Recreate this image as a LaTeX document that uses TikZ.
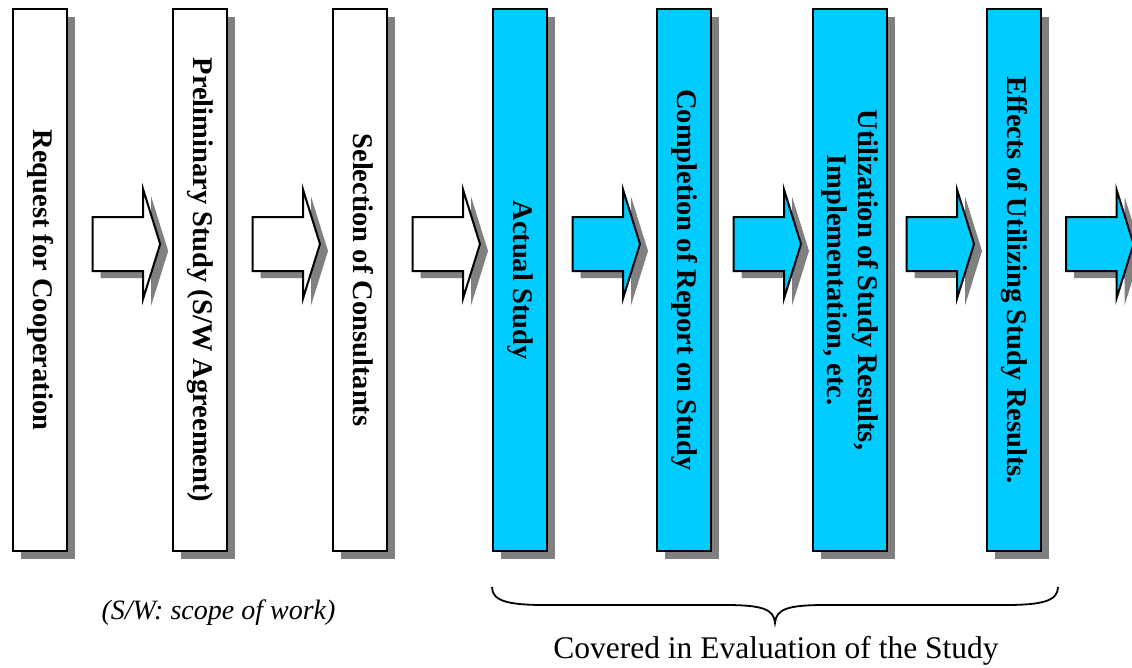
\documentclass[tikz,border=0pt]{standalone}
\usepackage{fontspec}
\setmainfont{Liberation Serif}
\usepackage{graphicx}
\usetikzlibrary{shadows}
\definecolor{boxcyan}{RGB}{0,204,255}
\definecolor{shadowgray}{RGB}{128,128,128}
\tikzset{
  stagebox/.style={draw=black, line width=2pt, minimum width=54pt, minimum height=542pt,
    inner sep=0pt, anchor=north west,
    drop shadow={shadow xshift=8pt, shadow yshift=-8pt, fill=shadowgray, opacity=1},
    font=\fontsize{28.5}{33}\selectfont\bfseries, align=center},
  whitebox/.style={stagebox, fill=white},
  cyanbox/.style={stagebox, fill=boxcyan},
  pics/blockarrow/.style={code={
    \fill[shadowgray, shift={(8,7)}] (0,-27) -- (50.5,-27) -- (50.5,-54.5) -- (67.5,0)
      -- (50.5,54.5) -- (50.5,27) -- (0,27) -- cycle;
    \draw[pic actions, draw=black, line width=2pt, line join=miter] (0,-27) -- (50.5,-27)
      -- (50.5,-54.5) -- (67.5,0) -- (50.5,54.5) -- (50.5,27) -- (0,27) -- cycle;
  }},
  bracestyle/.style={draw=black, line width=1.8pt}
}
\newcommand{\vtext}[1]{\rotatebox{-90}{\begin{tabular}{@{}c@{}}#1\end{tabular}}}
\begin{document}
\begin{tikzpicture}[x=1pt, y=-1pt]
\useasboundingbox (0,0) rectangle (1132,667);
\clip (0,0) rectangle (1132,667);
% stage boxes
\node[whitebox] (b1) at (12,8) {\vtext{Request for Cooperation}};
\node[whitebox] (b2) at (172,8) {\vtext{Preliminary Study (S/W Agreement)}};
\node[whitebox] (b3) at (332,8) {\vtext{Selection of Consultants}};
\node[cyanbox] (b4) at (492,8) {\vtext{Actual Study}};
\node[cyanbox] (b5) at (656,8) {\vtext{Completion of Report on Study}};
\node[cyanbox, minimum width=74pt] (b6) at (812,8) {\vtext{Utilization of Study Results,\\[-2pt] Implementation, etc.}};
\node[cyanbox] (b7) at (986,8) {\vtext{Effects of Utilizing Study Results.}};
% block arrows
\pic[fill=white] (a1) at (92.7,244) {blockarrow};
\pic[fill=white] (a2) at (252.5,244) {blockarrow};
\pic[fill=white] (a3) at (412.5,244) {blockarrow};
\pic[fill=boxcyan] (a4) at (572.5,244) {blockarrow};
\pic[fill=boxcyan] (a5) at (733.5,244) {blockarrow};
\pic[fill=boxcyan] (a6) at (906.5,244) {blockarrow};
\pic[fill=boxcyan] (a7) at (1066,244) {blockarrow};
% brace
\draw[bracestyle] (492,587) .. controls (492,601) and (508,605) .. (545,605) -- (725,605)
  .. controls (762,605) and (774,609) .. (775,623)
  .. controls (776,609) and (788,605) .. (825,605) -- (1005,605)
  .. controls (1042,605) and (1058,601) .. (1058,587);
% labels
\node[font=\fontsize{28}{32}\selectfont\itshape] (note) at (218.5,613) {(S/W: scope of work)};
\node[font=\fontsize{31.5}{36}\selectfont] (cover) at (776,651) {Covered in Evaluation of the Study};
\end{tikzpicture}
\end{document}
